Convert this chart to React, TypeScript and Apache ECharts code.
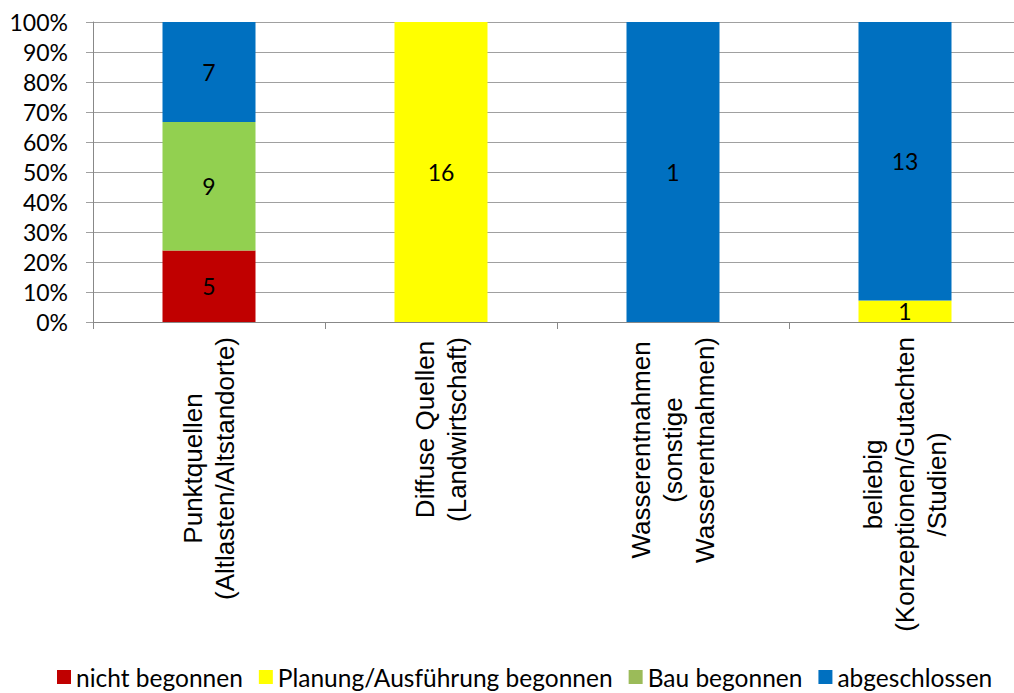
import React, { useEffect, useRef } from "react";
import * as echarts from "echarts";

const categories = [
  "Punktquellen\n(Altlasten/Altstandorte)",
  "Diffuse Quellen\n(Landwirtschaft)",
  "Wasserentnahmen\n(sonstige\nWasserentnahmen)",
  "beliebig\n(Konzeptionen/Gutachten\n/Studien)",
];
const seriesNames = [
  "nicht begonnen",
  "Planung/Ausführung begonnen",
  "Bau begonnen",
  "abgeschlossen",
];
const nichtBegonnen = [5, 0, 0, 0];
const planungBegonnen = [0, 16, 0, 1];
const bauBegonnen = [9, 0, 0, 0];
const abgeschlossen = [7, 0, 1, 13];
const yTicks = [0, 10, 20, 30, 40, 50, 60, 70, 80, 90, 100];

const barColors = ["#C00000", "#FFFF00", "#92D050", "#0070C0"];
const legendColors = ["#C00000", "#FFFF00", "#9BBB59", "#0070C0"];

export default function App() {
  const ref = useRef<HTMLDivElement>(null);
  useEffect(() => {
    document.body.style.margin = "0";
    const chart = echarts.init(ref.current!, null, { renderer: "svg" });
    const counts = [nichtBegonnen, planungBegonnen, bauBegonnen, abgeschlossen];
    const totals = categories.map((_, i) =>
      counts.reduce((s, arr) => s + arr[i], 0)
    );
    const series = counts.map((arr, si) => ({
      name: seriesNames[si],
      type: "bar",
      stack: "total",
      barWidth: 93,
      itemStyle: { color: barColors[si] },
      label: {
        show: true,
        position: "inside",
        color: "#000",
        fontFamily: "Lato",
        fontSize: 23,
        formatter: (p: any) => {
          const c = arr[p.dataIndex];
          return c ? String(c) : "";
        },
      },
      data: arr.map((v, i) => (v ? (v / totals[i]) * 100 : null)),
    }));
    chart.setOption({
      animation: false,
      grid: {
        left: 93,
        top: 22,
        width: 928,
        height: 300,
        containLabel: false,
        outerBoundsMode: "none",
      },
      legend: {
        left: 52,
        top: 659,
        icon: "rect",
        itemWidth: 14,
        itemHeight: 14,
        itemGap: 16,
        textStyle: { fontFamily: "Lato", fontSize: 24.5, color: "#000", lineHeight: 26 },
        data: seriesNames.map((n, i) => ({ name: n, itemStyle: { color: legendColors[i] } })),
      },
      xAxis: {
        type: "category",
        data: categories,
        axisLine: { show: true, lineStyle: { color: "#888", width: 1 } },
        axisTick: { show: true, length: 7, lineStyle: { color: "#888" } },
        axisLabel: {
          rotate: 90,
          margin: 15,
          interval: 0,
          formatter: (v: string) =>
            v.split("\n").map((l) => `{c|${l}}`).join("\n"),
          rich: {
            c: {
              align: "center",
              fontFamily: "Liberation Sans",
              fontSize: 26,
              lineHeight: 32,
              color: "#000",
            },
          },
        },
      },
      yAxis: {
        type: "value",
        min: yTicks[0],
        max: yTicks[yTicks.length - 1],
        interval: 10,
        axisLine: { show: true, lineStyle: { color: "#888", width: 1 } },
        axisTick: { show: true, length: 7, lineStyle: { color: "#A0A0A0" } },
        splitLine: { show: true, lineStyle: { color: "#A0A0A0", width: 1 } },
        axisLabel: {
          margin: 25,
          formatter: "{value}%",
          fontFamily: "Lato",
          fontSize: 23,
          color: "#000",
        },
      },
      series,
    });
    return () => chart.dispose();
  }, []);
  return <div ref={ref} style={{ width: 1014, height: 693 }} />;
}
